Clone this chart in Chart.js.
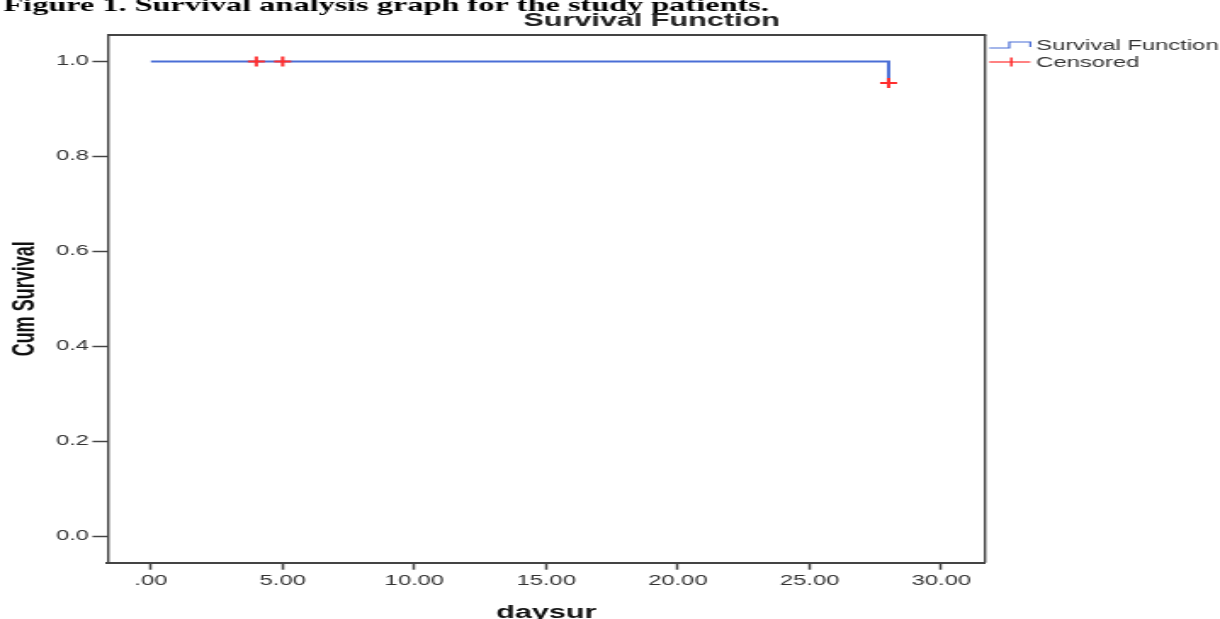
<!DOCTYPE html>
<html>
<head>
<meta charset="utf-8">
<title>Survival Function</title>
<script src="https://cdn.jsdelivr.net/npm/chart.js@4"></script>
<style>
  html, body { margin: 0; padding: 0; background: #fff; overflow: hidden; }
  #wrap { position: relative; width: 1220px; height: 619px; overflow: hidden; }
  /* the source figure is a horizontally stretched SPSS plot, so draw narrow and stretch */
  #chart { position: absolute; left: 0; top: 0; transform-origin: 0 0; }
</style>
</head>
<body>
<div id="wrap"><canvas id="chart" width="718" height="619"></canvas></div>
<script>
// ── data ─────────────────────────────────────────────
const xTickValues = [0, 5, 10, 15, 20, 25, 30];
const xTickLabels = ['.00', '5.00', '10.00', '15.00', '20.00', '25.00', '30.00'];
const yTickValues = [0, 0.2, 0.4, 0.6, 0.8, 1.0];
const yTickLabels = ['0.0', '0.2', '0.4', '0.6', '0.8', '1.0'];

const survivalDays = [0, 28, 28];
const survivalCum  = [1.0, 1.0, 0.955];
const censoredDays = [4, 5, 28];
const censoredCum  = [1.0, 1.0, 0.955];

const CAPTION = 'Figure 1. Survival analysis graph for the study patients.';
const TITLE   = 'Survival Function';

// ── layout ───────────────────────────────────────────
const CANVAS_W = 718;
const STRETCH  = 1220 / CANVAS_W;
const BLUE = '#4a6ed6';
const RED  = '#ff2e2e';
const AXIS = '#444';
const SANS = "'Liberation Sans', Arial, sans-serif";

const canvas = document.getElementById('chart');
canvas.style.transform = `scaleX(${STRETCH})`;

const toPoints = (xs, ys) => xs.map((x, i) => ({ x, y: ys[i] }));

// frame top/right, caption, title and custom legend
const figureChrome = {
  id: 'figureChrome',
  afterDraw(chart) {
    const { ctx, chartArea: a } = chart;
    ctx.save();

    ctx.strokeStyle = AXIS;
    ctx.lineWidth = 2;
    ctx.beginPath(); ctx.moveTo(a.left, a.top); ctx.lineTo(a.right + 0.7, a.top); ctx.stroke();
    ctx.lineWidth = 1.4;
    ctx.beginPath(); ctx.moveTo(a.right, a.top); ctx.lineTo(a.right, a.bottom); ctx.stroke();

    ctx.fillStyle = '#000';
    ctx.textBaseline = 'alphabetic';
    ctx.textAlign = 'left';
    ctx.font = "bold 19px 'Liberation Serif', 'Times New Roman', serif";
    ctx.fillText(CAPTION, 2, 11);

    ctx.fillStyle = '#222';
    ctx.textAlign = 'center';
    ctx.font = `bold 18px ${SANS}`;
    ctx.fillText(TITLE, 383.5, 26);

    // legend
    const lx = a.right + 2.5;
    const ds = chart.data.datasets;
    ctx.lineWidth = 1.2;
    ctx.strokeStyle = BLUE;
    ctx.beginPath();
    ctx.moveTo(lx, 48); ctx.lineTo(lx + 11.8, 48); ctx.lineTo(lx + 11.8, 42);
    ctx.lineTo(lx + 24.2, 42); ctx.lineTo(lx + 24.2, 47);
    ctx.stroke();

    ctx.strokeStyle = RED;
    ctx.beginPath(); ctx.moveTo(lx, 62); ctx.lineTo(lx + 24.2, 62); ctx.stroke();
    ctx.lineWidth = 1.5;
    ctx.beginPath(); ctx.moveTo(lx + 13, 57.5); ctx.lineTo(lx + 13, 66.5); ctx.stroke();

    ctx.fillStyle = '#333';
    ctx.textAlign = 'left';
    ctx.font = `14px ${SANS}`;
    ctx.fillText(ds[1].label, lx + 27.6, 49.5);
    ctx.fillText(ds[0].label, lx + 27.6, 67);

    ctx.restore();
  },
};

new Chart(canvas, {
  type: 'scatter',
  data: {
    datasets: [
      {
        label: 'Censored',
        data: toPoints(censoredDays, censoredCum),
        pointStyle: 'cross',
        pointRadius: 5,
        pointBorderWidth: 2,
        borderColor: RED,
        backgroundColor: RED,
        showLine: false,
        order: 0,
      },
      {
        label: 'Survival Function',
        data: toPoints(survivalDays, survivalCum),
        showLine: true,
        borderColor: BLUE,
        borderWidth: 2,
        pointRadius: 0,
        tension: 0,
        order: 1,
      },
    ],
  },
  options: {
    responsive: false,
    devicePixelRatio: 1,
    animation: false,
    layout: { padding: { left: 0, right: 138.3, top: 35, bottom: 0 } },
    plugins: {
      legend: { display: false },
      title: { display: false },
      tooltip: { enabled: false },
    },
    scales: {
      x: {
        type: 'linear',
        min: -1.64, max: 31.66,
        afterBuildTicks: s => { s.ticks = xTickValues.map(value => ({ value })); },
        afterFit: s => { s.height = 56.3; },
        ticks: {
          autoSkip: false, maxRotation: 0, padding: 3.5,
          callback: (v, i) => xTickLabels[i],
          font: { family: SANS, size: 14 },
          color: '#333',
        },
        grid: { drawOnChartArea: false, tickLength: 7, tickColor: AXIS, tickWidth: 1.5 },
        border: { display: true, color: AXIS, width: 2 },
        title: {
          display: true, text: 'daysur', color: '#111',
          font: { family: SANS, size: 18, weight: 'bold', lineHeight: 0.7 },
          padding: { top: 0, bottom: 0 },
        },
      },
      y: {
        type: 'linear',
        min: -0.055, max: 1.056,
        afterBuildTicks: s => { s.ticks = yTickValues.map(value => ({ value })); },
        afterFit: s => { s.width = 63.4; },
        ticks: {
          autoSkip: false, padding: 2,
          callback: (v, i) => yTickLabels[i],
          font: { family: SANS, size: 14 },
          color: '#333',
        },
        grid: { drawOnChartArea: false, tickLength: 9, tickColor: AXIS, tickWidth: 1.5 },
        border: { display: true, color: AXIS, width: 1.4 },
        title: {
          display: true, text: 'Cum Survival', color: '#111',
          font: { family: SANS, size: 18, weight: 'bold', lineHeight: 1.2 },
          padding: { top: 4.4, bottom: 0 },
        },
      },
    },
  },
  plugins: [figureChrome],
});
</script>
</body>
</html>
